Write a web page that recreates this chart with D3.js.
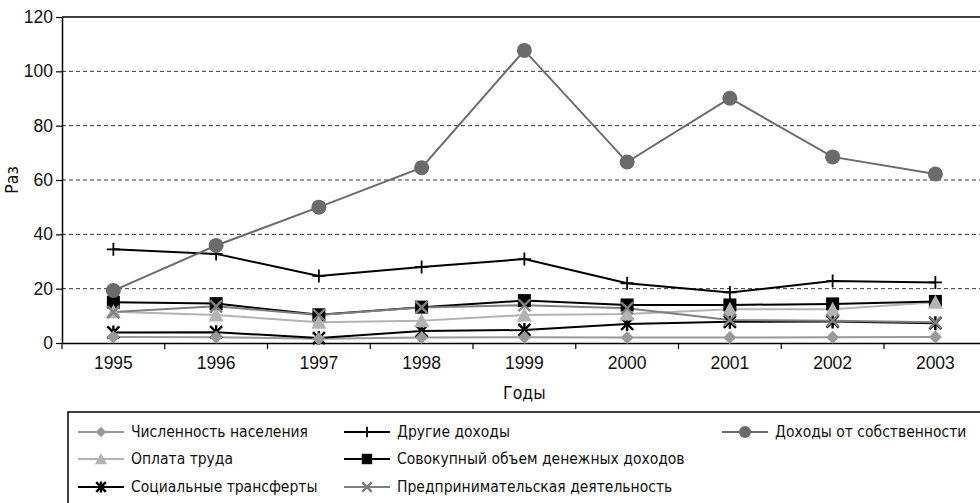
<!DOCTYPE html>
<html><head><meta charset="utf-8">
<script src="https://cdn.jsdelivr.net/npm/d3@7"></script>
<style>
body{margin:0;background:#fff;}
svg{display:block;font-family:"DejaVu Sans Condensed","Liberation Sans Narrow",sans-serif;}
</style></head><body>
<svg id="c" width="980" height="503"></svg>
<script>
const years = ["1995","1996","1997","1998","1999","2000","2001","2002","2003"];
const yTicks = [0,20,40,60,80,100,120];
const population   = [2.2, 2.1, 1.6, 2.0, 2.1, 2.0, 2.0, 2.1, 2.2];
const wages        = [11.5, 10.3, 7.6, 8.2, 10.3, 10.7, 12.4, 12.4, 15.0];
const transfers    = [3.9, 4.0, 1.8, 4.4, 4.8, 7.0, 7.8, 7.9, 7.3];
const otherIncome  = [34.5, 32.8, 24.7, 28.0, 30.9, 22.0, 18.6, 22.8, 22.3];
const totalIncome  = [15.0, 14.5, 10.4, 13.2, 15.6, 14.0, 14.0, 14.4, 15.3];
const business     = [11.4, 13.5, 10.3, 13.1, 13.9, 12.8, 8.5, 8.2, 7.6];
const property     = [19.3, 35.9, 50.0, 64.5, 107.7, 66.6, 90.1, 68.5, 62.2];
const seriesNames = ["Численность населения","Оплата труда","Социальные трансферты","Другие доходы","Совокупный объем денежных доходов","Предпринимательская деятельность","Доходы от собственности"];

const series = [
  {name:seriesNames[0], values:population, color:"#999999", lw:2, marker:"diamond"},
  {name:seriesNames[1], values:wages, color:"#b3b3b3", lw:2, marker:"triangle"},
  {name:seriesNames[2], values:transfers, color:"#000000", lw:2, marker:"asterisk"},
  {name:seriesNames[3], values:otherIncome, color:"#000000", lw:2, marker:"plus"},
  {name:seriesNames[4], values:totalIncome, color:"#000000", lw:2, marker:"square"},
  {name:seriesNames[5], values:business, color:"#808080", lw:2, marker:"cross"},
  {name:seriesNames[6], values:property, color:"#6b6b6b", lw:2, marker:"circle"}
];
const markerOrder = [4,3,6,2,0,1,5];

const svg = d3.select("#c");
const pL = 62, pR = 62 + 9*102.75, pT = 17, pB = 343;
const x = d3.scaleBand().domain(years).range([pL, pR]);
const y = d3.scaleLinear().domain([0,120]).range([pB, pT]);

// gridlines
const g = svg.append("g");
g.selectAll("line.grid").data(yTicks.filter(d=>d>0 && d<120)).enter().append("line")
  .attr("x1", pL).attr("x2", pR).attr("y1", d=>y(d)).attr("y2", d=>y(d))
  .attr("stroke","#333").attr("stroke-width",1).attr("stroke-dasharray","4,3");
g.append("line").attr("x1",pL).attr("x2",pR).attr("y1",y(120)).attr("y2",y(120))
  .attr("stroke","#000").attr("stroke-width",1.5);

// axes
const yAxis = svg.append("g").attr("transform",`translate(${pL},0)`)
  .call(d3.axisLeft(y).tickValues(yTicks).tickSize(6).tickSizeOuter(0));
yAxis.select(".domain").attr("stroke","#000").attr("stroke-width",1.5);
yAxis.selectAll(".tick line").attr("stroke","#000").attr("stroke-width",1.2);
yAxis.selectAll("text").attr("font-size",17.5).attr("fill","#111").attr("x",-9)
  .attr("font-family","inherit");

const xAxis = svg.append("g").attr("transform",`translate(0,${pB})`)
  .call(d3.axisBottom(x).tickSize(0).tickSizeOuter(0));
xAxis.select(".domain").attr("stroke","#000").attr("stroke-width",1.5);
xAxis.selectAll("text").attr("font-size",17.5).attr("fill","#111").attr("dy","1.05em").attr("y",8)
  .attr("font-family","inherit");
// between-category ticks
xAxis.selectAll("line.sep").data(years).enter().append("line").attr("class","sep")
  .attr("x1",d=>x(d)).attr("x2",d=>x(d)).attr("y1",0).attr("y2",6)
  .attr("stroke","#000").attr("stroke-width",1.2);

svg.append("text").attr("transform",`translate(18,${(pT+pB)/2}) rotate(-90)`)
  .attr("text-anchor","middle").attr("font-size",17.5).attr("fill","#111").text("Раз");
svg.append("text").attr("x",(pL+pR)/2).attr("y",399)
  .attr("text-anchor","middle").attr("font-size",17.5).attr("fill","#111").text("Годы");

function drawMarker(sel, type, color, s){
  s = s || 1;
  if(type==="circle") sel.append("circle").attr("r",7.5*s).attr("fill",color);
  else if(type==="square") sel.append("rect").attr("x",-6.5*s).attr("y",-6.5*s).attr("width",13*s).attr("height",13*s).attr("fill",color);
  else if(type==="diamond") sel.append("path").attr("d",`M0,${-6.5*s}L${6.5*s},0L0,${6.5*s}L${-6.5*s},0Z`).attr("fill",color);
  else if(type==="triangle") sel.append("path").attr("d",`M0,${-7.5*s}L${7.5*s},${6.5*s}L${-7.5*s},${6.5*s}Z`).attr("fill",color);
  else if(type==="plus") sel.append("path").attr("d",`M${-6.5*s},0H${6.5*s}M0,${-6.5*s}V${6.5*s}`).attr("stroke",color).attr("stroke-width",1.8);
  else if(type==="cross") sel.append("path").attr("d",`M${-6*s},${-6*s}L${6*s},${6*s}M${6*s},${-6*s}L${-6*s},${6*s}`).attr("stroke",color).attr("stroke-width",2.4);
  else if(type==="asterisk") sel.append("path").attr("d",`M${-6*s},${-6*s}L${6*s},${6*s}M${6*s},${-6*s}L${-6*s},${6*s}M0,${-7*s}V${7*s}`).attr("stroke",color).attr("stroke-width",2.4);
}

const line = d3.line().x((d,i)=>x(years[i])+x.bandwidth()/2).y(d=>y(d));
series.forEach(s=>{
  svg.append("path").attr("d",line(s.values)).attr("fill","none").attr("stroke",s.color).attr("stroke-width",s.lw);
});
markerOrder.forEach(k=>{
  const s = series[k];
  s.values.forEach((v,i)=>{
    const m = svg.append("g").attr("transform",`translate(${x(years[i])+x.bandwidth()/2},${y(v)})`);
    drawMarker(m, s.marker, s.color);
  });
});

// legend
const leg = svg.append("g");
leg.append("rect").attr("x",68).attr("y",412).attr("width",1000).attr("height",200)
  .attr("fill","none").attr("stroke","#000").attr("stroke-width",1.5);
const colX = [78, 344, 722];
const rowY = [432, 459, 487];
const pos = [[0,0],[0,1],[0,2],[1,0],[1,1],[1,2],[2,0]];
series.forEach((s,i)=>{
  const [c,r] = pos[i];
  const gg = leg.append("g").attr("transform",`translate(${colX[c]},${rowY[r]})`);
  gg.append("line").attr("x1",0).attr("x2",46).attr("stroke",s.color).attr("stroke-width",2);
  const m = gg.append("g").attr("transform","translate(23,0)");
  drawMarker(m, s.marker, s.color, 0.8);
  gg.append("text").attr("x",53).attr("y",0).attr("dy","0.35em").attr("font-size",15.5).attr("fill","#111").text(s.name);
});
</script>
</body></html>
